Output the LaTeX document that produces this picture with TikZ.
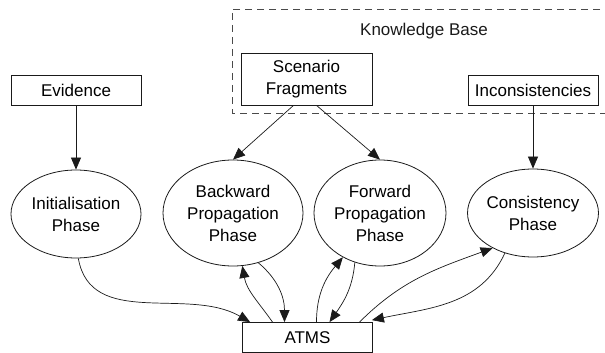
\documentclass[tikz,border=0pt]{standalone}
\usepackage{fontspec}
\setmainfont{Liberation Sans}
\usetikzlibrary{arrows.meta,shapes.geometric}
\definecolor{phInk}{HTML}{1A1A1A}
\definecolor{phFrame}{HTML}{4A4A4A}
\tikzset{
  ph box/.style={draw=phInk, line width=0.8pt, fill=white, inner sep=0pt, font=\fontsize{17}{22}\selectfont, align=center},
  ph phase/.style={ellipse, draw=phInk, line width=0.8pt, inner sep=0pt, font=\fontsize{17}{22}\selectfont, align=center},
  ph frame/.style={draw=phFrame, line width=0.8pt, dash pattern=on 7pt off 5pt},
  ph link/.style={draw=phInk, line width=0.7pt, -{Triangle[length=12pt,width=10pt]}},
  ph label/.style={font=\fontsize{17}{22}\selectfont, text=phInk},
}
\begin{document}
\begin{tikzpicture}[x=1pt,y=1pt]
  \useasboundingbox (0,0) rectangle (605,-353);
  % Knowledge base frame runs off the right edge
  \draw[ph frame] (612,-9) -- (232,-9) -- (232,-113) -- (612,-113);
  \node[ph label] (kb) at (424,-31) {Knowledge Base};
  % Input boxes
  \node[ph box, minimum width=130, minimum height=30] (evidence) at (76,-90) {Evidence};
  \node[ph box, minimum width=131, minimum height=52] (fragments) at (306.5,-79) {Scenario\\Fragments};
  \node[ph box, minimum width=130, minimum height=30] (incons) at (533,-90) {Inconsistencies};
  % Phases
  \node[ph phase, minimum width=130, minimum height=88] (init) at (76,-214) {Initialisation\\Phase};
  \node[ph phase, minimum width=140, minimum height=106] (backward) at (233,-213) {Backward\\Propagation\\Phase};
  \node[ph phase, minimum width=132, minimum height=106] (forward) at (380,-213) {Forward\\Propagation\\Phase};
  \node[ph phase, minimum width=130, minimum height=88] (consist) at (533,-213) {Consistency\\Phase};
  % Truth maintenance system
  \node[ph box, minimum width=130, minimum height=30] (atms) at (307.5,-337.5) {ATMS};
  % Inputs into the phases
  \draw[ph link] (evidence) -- (init);
  \draw[ph link] ([xshift=-13]fragments.south) -- (backward.north);
  \draw[ph link] ([xshift=10]fragments.south) -- (forward.north);
  \draw[ph link] (incons) -- (consist);
  % Exchanges with the ATMS
  \draw[ph link] (init.-87) to[out=-80,in=150] ([xshift=8]atms.north west);
  \draw[ph link] ([xshift=-35]atms.north) to[out=125,in=-80] (backward.-80);
  \draw[ph link] (backward.-63) to[out=-40,in=90] ([xshift=-23]atms.north);
  \draw[ph link] ([xshift=9]atms.north) to[out=90,in=-130] (forward.-130);
  \draw[ph link] (forward.-117) to[out=-95,in=55] ([xshift=22]atms.north);
  \draw[ph link] ([xshift=52]atms.north) to[out=45,in=-160] (consist.-139);
  \draw[ph link] (consist.-125) to[out=-115,in=12] ([xshift=-1,yshift=2]atms.north east);
\end{tikzpicture}
\end{document}
